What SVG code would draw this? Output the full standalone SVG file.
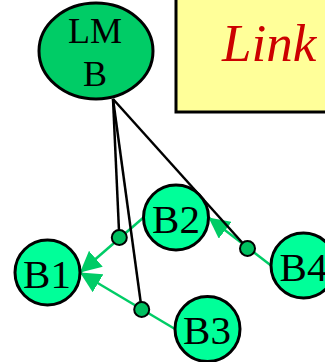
<svg xmlns="http://www.w3.org/2000/svg" width="325" height="362" viewBox="0 0 325 362">
<defs>
<style>
.node{fill:#00FF99;stroke:#000;stroke-width:3}
.lbl{font-family:"Liberation Serif","Times New Roman",serif;font-size:41px;fill:#000;text-anchor:middle}
.edge{stroke:#00CC66;stroke-width:2.5;fill:none}
.ctl{stroke:#000;stroke-width:2.5;fill:none}
.dot{fill:#00C060;stroke:#000;stroke-width:2}
</style>
<marker id="arr" viewBox="0 0 10 10" refX="10" refY="5" markerWidth="21" markerHeight="21" markerUnits="userSpaceOnUse" orient="auto">
<path d="M0,0 L10,5 L0,10 Z" fill="#00CC66"/>
</marker>
</defs>
<rect width="325" height="362" fill="#fff"/>
<g id="link-box">
<rect x="176" y="-5" width="160" height="117" fill="#FFFF99" stroke="#000" stroke-width="3"/>
<text x="222" y="61" font-family="'Liberation Serif','Times New Roman',serif" font-size="53" font-style="italic" fill="#CC0000">Link</text>
</g>
<g id="connectors">
<line class="edge" x1="143.5" y1="217.5" x2="80" y2="272.5" marker-end="url(#arr)"/>
<line class="edge" x1="175" y1="329" x2="80" y2="272.5" marker-end="url(#arr)"/>
<line class="edge" x1="271" y1="265.5" x2="208.5" y2="217.5" marker-end="url(#arr)"/>
<line class="ctl" x1="113" y1="99" x2="119.3" y2="237.5"/>
<line class="ctl" x1="113" y1="99" x2="141.7" y2="309.5"/>
<line class="ctl" x1="113" y1="99" x2="247.5" y2="248.5"/>
<circle class="dot" cx="119.3" cy="237.5" r="7.5"/>
<circle class="dot" cx="141.7" cy="309.5" r="7.5"/>
<circle class="dot" cx="247.5" cy="248.5" r="7.5"/>
</g>
<g id="LMB">
<ellipse cx="96" cy="51" rx="57" ry="48" fill="#00CC66" stroke="#000" stroke-width="3"/>
<text class="lbl" x="95" y="43" style="font-size:36px">LM</text>
<text class="lbl" x="95" y="86" style="font-size:36px">B</text>
</g>
<g id="B1">
<circle class="node" cx="47.5" cy="272.5" r="32.5"/>
<text class="lbl" x="47" y="288">B1</text>
</g>
<g id="B2">
<circle class="node" cx="176" cy="217.5" r="32.5"/>
<text class="lbl" x="176" y="233">B2</text>
</g>
<g id="B3">
<circle class="node" cx="207.5" cy="329" r="32.5"/>
<text class="lbl" x="207" y="343.5">B3</text>
</g>
<g id="B4">
<circle class="node" cx="303.5" cy="265.5" r="32.5"/>
<text class="lbl" x="303.5" y="280.5">B4</text>
</g>
</svg>
